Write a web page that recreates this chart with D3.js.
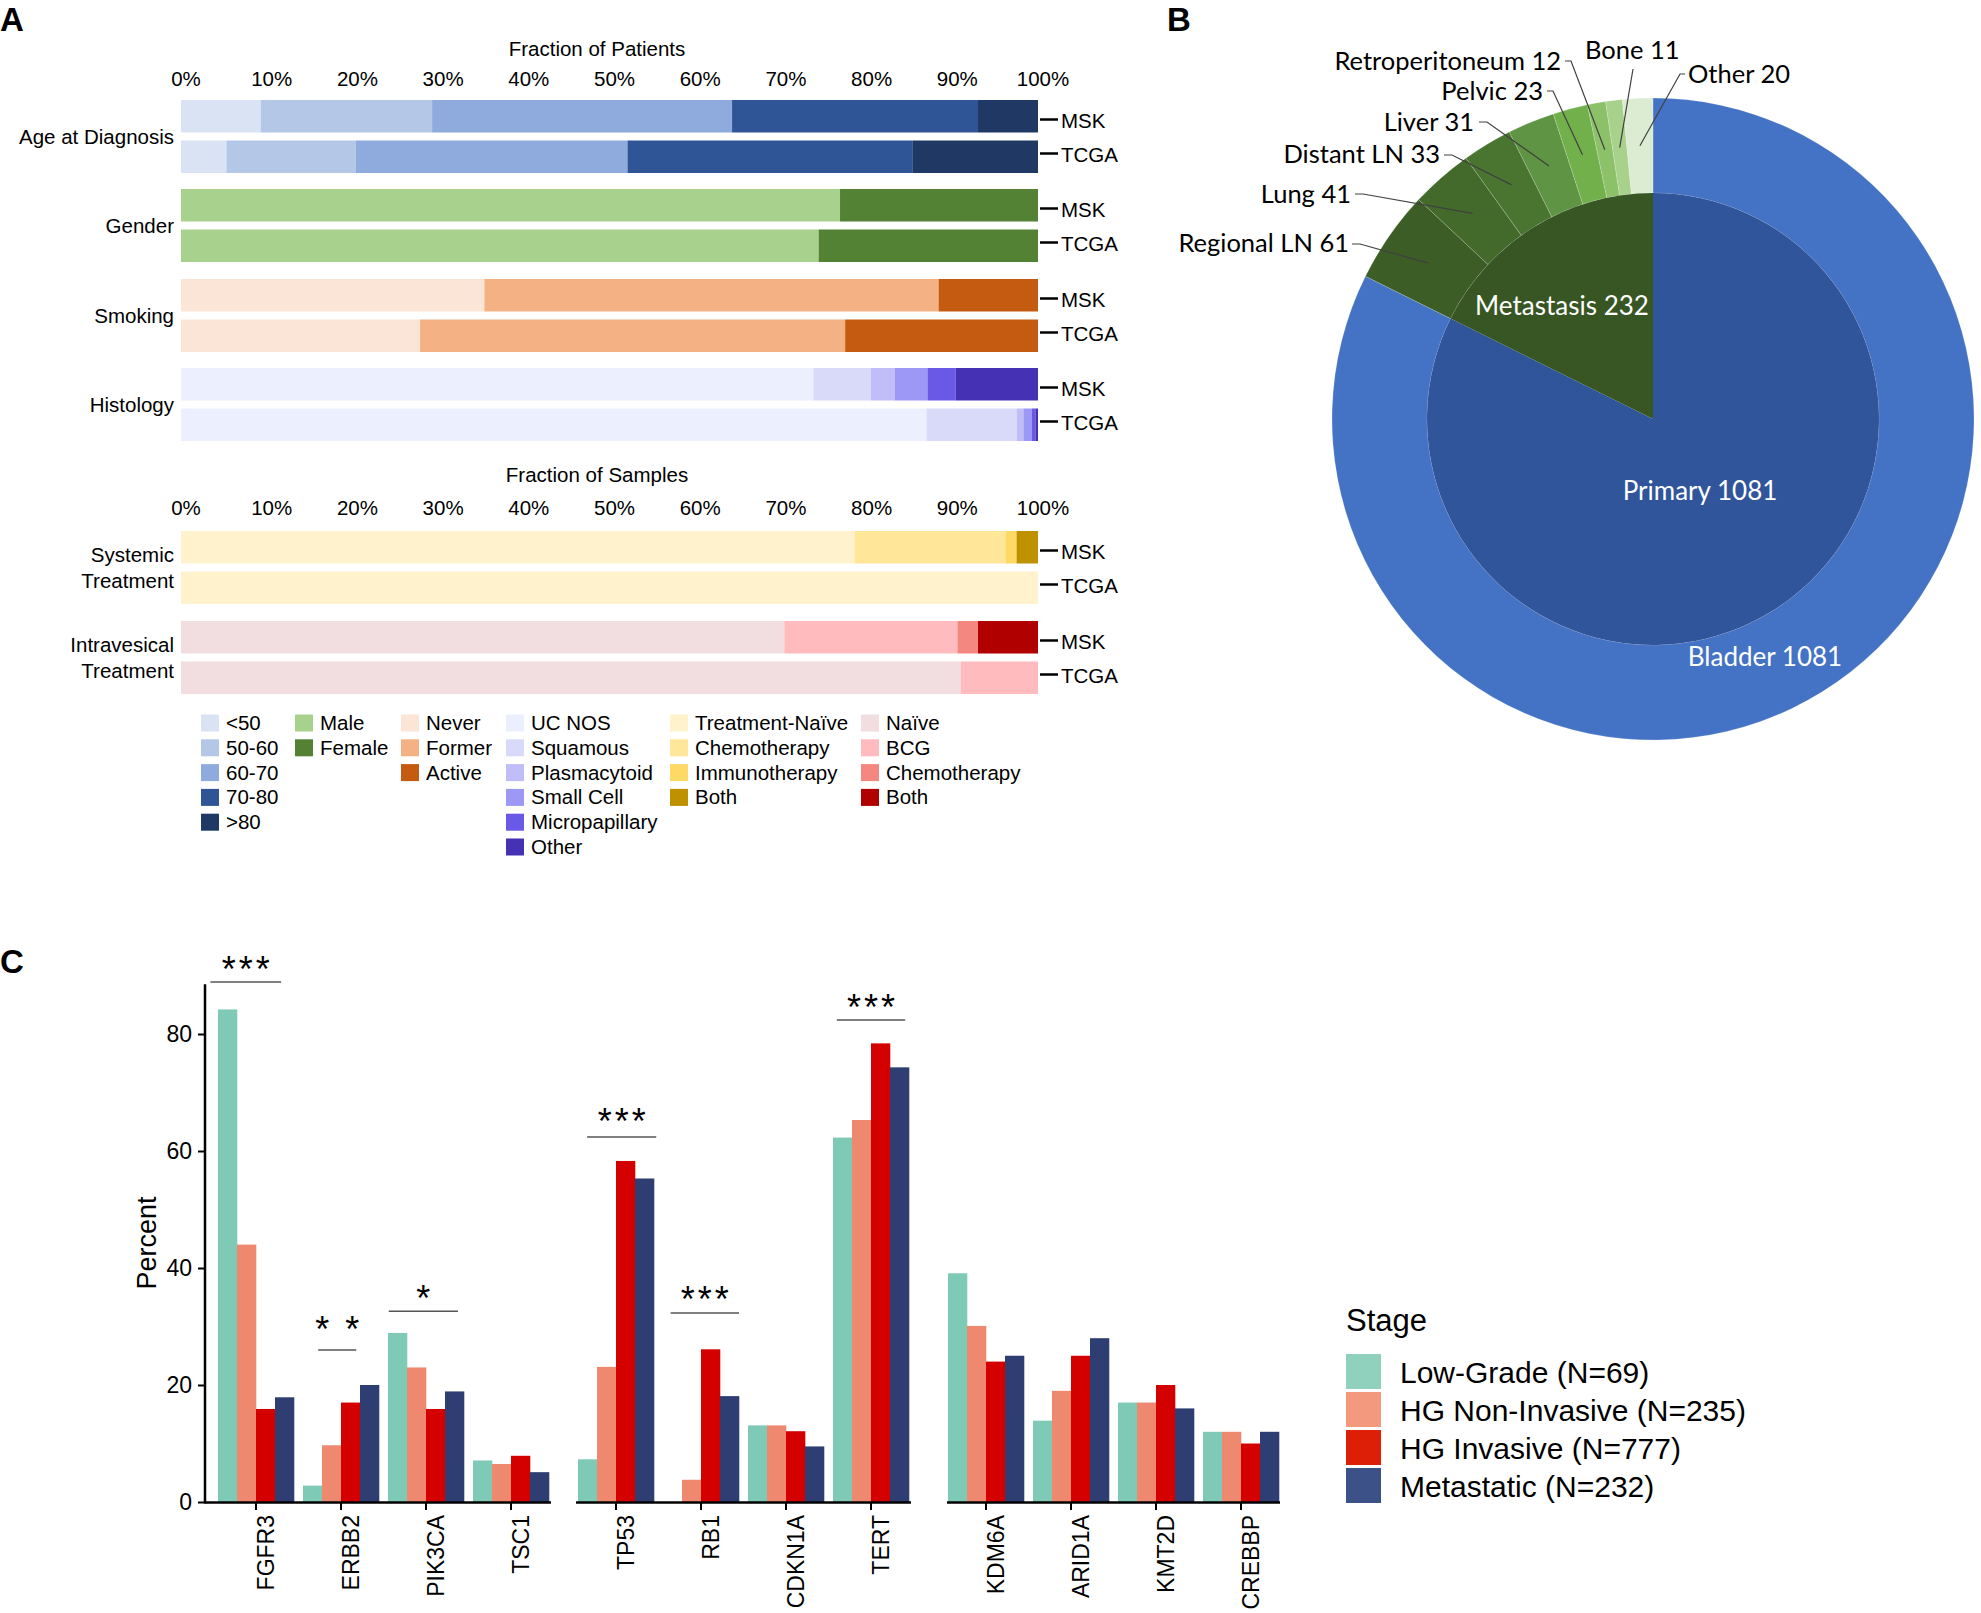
<!DOCTYPE html>
<html><head><meta charset="utf-8">
<script src="https://cdn.jsdelivr.net/npm/d3@7"></script>
<style>body{margin:0;background:#fff}svg{display:block}</style>
</head><body>
<svg id="chart" width="1981" height="1613"></svg>
<script>
// ================= DATA =================
// Panel A
const cohorts = ["MSK", "TCGA"];
const pctTicks = [0, 10, 20, 30, 40, 50, 60, 70, 80, 90, 100];
const ageCats = ["<50", "50-60", "60-70", "70-80", ">80"];
const ageMSK = [9.3, 20.0, 35.0, 28.7, 7.0];
const ageTCGA = [5.3, 15.1, 31.7, 33.3, 14.6];
const genderCats = ["Male", "Female"];
const genderMSK = [76.9, 23.1];
const genderTCGA = [74.4, 25.6];
const smokingCats = ["Never", "Former", "Active"];
const smokingMSK = [35.4, 53.0, 11.6];
const smokingTCGA = [27.9, 49.6, 22.5];
const histCats = ["UC NOS", "Squamous", "Plasmacytoid", "Small Cell", "Micropapillary", "Other"];
const histMSK = [73.8, 6.7, 2.8, 3.8, 3.3, 9.6];
const histTCGA = [87.0, 10.5, 0.8, 1.0, 0.4, 0.3];
const sysCats = ["Treatment-Naïve", "Chemotherapy", "Immunotherapy", "Both"];
const sysMSK = [78.6, 17.6, 1.3, 2.5];
const sysTCGA = [100, 0, 0, 0];
const ivCats = ["Naïve", "BCG", "Chemotherapy", "Both"];
const ivMSK = [70.4, 20.2, 2.4, 7.0];
const ivTCGA = [91.0, 9.0, 0, 0];

// Panel B
const stageNames = ["Primary", "Metastasis"];
const stageCounts = [1081, 232];
const siteNames = ["Bladder", "Regional LN", "Lung", "Distant LN", "Liver", "Pelvic", "Retroperitoneum", "Bone", "Other"];
const siteCounts = [1081, 61, 41, 33, 31, 23, 12, 11, 20];

// Panel C
const genePanels = [["FGFR3", "ERBB2", "PIK3CA", "TSC1"], ["TP53", "RB1", "CDKN1A", "TERT"], ["KDM6A", "ARID1A", "KMT2D", "CREBBP"]];
const stageLabels = ["Low-Grade (N=69)", "HG Non-Invasive (N=235)", "HG Invasive (N=777)", "Metastatic (N=232)"];
const lowGrade   = [84.2, 2.8, 28.9, 7.1, 7.3, 0, 13.1, 62.3, 39.1, 13.9, 17.0, 12.0];
const hgNonInv   = [44.0, 9.7, 23.0, 6.5, 23.1, 3.8, 13.1, 65.3, 30.1, 19.0, 17.0, 12.0];
const hgInv      = [15.9, 17.0, 15.9, 7.9, 58.3, 26.1, 12.1, 78.4, 24.0, 25.0, 20.0, 10.0];
const metastatic = [17.9, 20.0, 18.9, 5.1, 55.3, 18.1, 9.5, 74.3, 25.0, 28.0, 16.0, 12.0];
const yTicks = [0, 20, 40, 60, 80];
const sigGenes = ["FGFR3", "ERBB2", "PIK3CA", "TP53", "RB1", "TERT"];
const sigMarks = ["***", "* *", "*", "***", "***", "***"];
const sigLevels = [88.9, 26.0, 32.6, 62.4, 32.3, 82.4];

// ================= STYLE / LAYOUT =================
const FONT = "'Liberation Sans', Arial, Helvetica, sans-serif";
const FONTB = "Lato, 'Open Sans', sans-serif";
const ageColors = ["#dae3f3", "#b4c7e7", "#8faadc", "#2f5597", "#1f3864"];
const genderColors = ["#a9d18e", "#548235"];
const smokingColors = ["#fbe5d6", "#f4b183", "#c55a11"];
const histColors = ["#eceffd", "#d9dafa", "#c0bdf8", "#9d98f5", "#6a58e6", "#4431b4"];
const sysColors = ["#fff2cc", "#ffe699", "#ffd966", "#bf9000"];
const ivColors = ["#f2dde1", "#ffbbbd", "#f4877f", "#b00000"];
const stageColors = ["#31559a", "#375623"];
const siteColors = ["#4472c4", "#3c5d26", "#436a2b", "#4a7530", "#5e9443", "#71b04b", "#8cc16a", "#a8d18b", "#dcecd3"];
const barColors = ["#7fcab6", "#ee896f", "#d40000", "#2e3e72"];
const legColors = ["#8fd1bd", "#f39a7e", "#dd1f08", "#3b5188"];

const svg = d3.select("#chart");

// ---------- Panel letters ----------
svg.append("text").attr("x", 0).attr("y", 31).text("A");
svg.append("text").attr("x", 1167).attr("y", 31).text("B");
svg.append("text").attr("x", 0).attr("y", 973).text("C");
svg.selectAll("text").attr("font-family", FONT).attr("font-weight", "bold").attr("font-size", 33);

// ================= PANEL A =================
const gA = svg.append("g").attr("font-family", FONT).attr("font-size", 20.5).attr("fill", "#000");
const xA = d3.scaleLinear().domain([0, 100]).range([181, 1038]);

const sections = [
  {label: ["Age at Diagnosis"], vals: [ageMSK, ageTCGA], colors: ageColors, top: 100},
  {label: ["Gender"], vals: [genderMSK, genderTCGA], colors: genderColors, top: 189},
  {label: ["Smoking"], vals: [smokingMSK, smokingTCGA], colors: smokingColors, top: 279},
  {label: ["Histology"], vals: [histMSK, histTCGA], colors: histColors, top: 368},
  {label: ["Systemic", "Treatment"], vals: [sysMSK, sysTCGA], colors: sysColors, top: 531},
  {label: ["Intravesical", "Treatment"], vals: [ivMSK, ivTCGA], colors: ivColors, top: 621}
];
const barH = 32.5, rowStep = 40.5;

// axis headers
function pctAxis(titleText, titleY, tickY) {
  gA.append("text").attr("x", 597).attr("y", titleY).attr("text-anchor", "middle").text(titleText);
  gA.selectAll(null).data(pctTicks).join("text")
    .attr("x", d => xA(d) + 5).attr("y", tickY).attr("text-anchor", "middle")
    .text(d => d + "%");
}
pctAxis("Fraction of Patients", 56, 86);
pctAxis("Fraction of Samples", 482, 515);

sections.forEach(sec => {
  const gc = sec.top + (rowStep + barH) / 2;
  sec.vals.forEach((vals, ri) => {
    const y0 = sec.top + ri * rowStep;
    const cum = [0, ...d3.cumsum(vals)];
    gA.append("g").selectAll("rect").data(vals).join("rect")
      .attr("x", (d, i) => xA(cum[i]))
      .attr("width", (d, i) => Math.max(0, xA(cum[i + 1]) - xA(cum[i])))
      .attr("y", y0).attr("height", barH)
      .attr("fill", (d, i) => sec.colors[i]);
    const ly = gc + (ri === 0 ? -17 : 17);
    gA.append("line").attr("x1", 1040).attr("x2", 1058).attr("y1", ly).attr("y2", ly)
      .attr("stroke", "#000").attr("stroke-width", 2.5);
    gA.append("text").attr("x", 1061).attr("y", ly + 8).text(cohorts[ri]);
  });
  const n = sec.label.length;
  sec.label.forEach((t, i) => {
    gA.append("text").attr("x", 174).attr("y", gc + 7 + (i - (n - 1) / 2) * 26)
      .attr("text-anchor", "end").text(t);
  });
});

// legend
const legendCols = [
  {cats: ageCats, colors: ageColors, x: 201},
  {cats: genderCats, colors: genderColors, x: 295},
  {cats: smokingCats, colors: smokingColors, x: 401},
  {cats: histCats, colors: histColors, x: 506},
  {cats: sysCats, colors: sysColors, x: 670},
  {cats: ivCats, colors: ivColors, x: 861}
];
legendCols.forEach(col => {
  const g = gA.append("g");
  col.cats.forEach((c, i) => {
    const cy = 723 + i * 24.8;
    g.append("rect").attr("x", col.x).attr("y", cy - 8.5).attr("width", 18).attr("height", 17)
      .attr("fill", col.colors[i]);
    g.append("text").attr("x", col.x + 25).attr("y", cy + 7).text(c);
  });
});

// ================= PANEL B =================
const cx = 1653, cy = 419, rIn = 226, rOut = 321;
const gB = svg.append("g").attr("transform", `translate(${cx},${cy})`).attr("font-family", FONTB);
const pie = d3.pie().sort(null).value(d => d).startAngle(0).endAngle(2 * Math.PI);
const innerArc = d3.arc().innerRadius(0).outerRadius(rIn);
const outerArc = d3.arc().innerRadius(rIn).outerRadius(rOut);
const stagePie = pie(stageCounts);
const sitePie = pie(siteCounts);
gB.selectAll("path.o").data(sitePie).join("path").attr("class", "o")
  .attr("d", outerArc).attr("fill", (d, i) => siteColors[i])
  .attr("stroke", "rgba(255,255,255,0.18)").attr("stroke-width", 1);
gB.selectAll("path.i").data(stagePie).join("path").attr("class", "i")
  .attr("d", innerArc).attr("fill", (d, i) => stageColors[i]);

// internal labels (white)
const innerLabelPos = [[47, 81], [-91, -104]];
stagePie.forEach((d, i) => {
  gB.append("text").attr("x", innerLabelPos[i][0]).attr("y", innerLabelPos[i][1])
    .attr("text-anchor", "middle").attr("fill", "#fff").attr("font-size", 26)
    .text(stageNames[i] + " " + stageCounts[i]);
});
gB.append("text").attr("x", 112).attr("y", 247).attr("text-anchor", "middle")
  .attr("fill", "#fff").attr("font-size", 26).text(siteNames[0] + " " + siteCounts[0]);

// external labels with leader lines (absolute page positions)
const siteLabelLayout = [
  null,
  {x: 1349, y: 252, a: "end", lx: 1352, ly: 244, h: 8},
  {x: 1351, y: 203, a: "end", lx: 1355, ly: 194, h: 8},
  {x: 1440, y: 163, a: "end", lx: 1444, ly: 155, h: 8},
  {x: 1474, y: 131, a: "end", lx: 1479, ly: 122, h: 8},
  {x: 1543, y: 100, a: "end", lx: 1547, ly: 91, h: 6},
  {x: 1561, y: 70, a: "end", lx: 1565, ly: 61, h: 6},
  {x: 1585, y: 59, a: "start", lx: 1633, ly: 69, h: 0},
  {x: 1688, y: 83, a: "start", lx: 1685, ly: 74, h: -5}
];
sitePie.forEach((d, i) => {
  const L = siteLabelLayout[i];
  if (!L) return;
  const c = outerArc.centroid(d);
  gB.append("path")
    .attr("d", `M${L.lx - cx},${L.ly - cy}h${L.h}L${c[0]},${c[1]}`)
    .attr("fill", "none").attr("stroke", "#404040").attr("stroke-width", 1.2);
  gB.append("text").attr("x", L.x - cx).attr("y", L.y - cy).attr("text-anchor", L.a)
    .attr("font-size", 25.5).attr("fill", "#000").text(siteNames[i] + " " + siteCounts[i]);
});

// ================= PANEL C =================
const gC = svg.append("g").attr("font-family", FONT);
const yC = d3.scaleLinear().domain([0, 80]).range([1502, 1034]);
const panelRanges = [[218, 549], [578, 909], [948, 1279]];
const axisRanges = [[205, 551], [576, 911], [947, 1280]];
const seriesList = [lowGrade, hgNonInv, hgInv, metastatic];
const allGenes = genePanels.flat();
const xBand = {};

genePanels.forEach((genes, pi) => {
  const x0 = d3.scaleBand().domain(genes).range(panelRanges[pi]).paddingInner(0.106);
  const x1 = d3.scaleBand().domain(d3.range(4)).range([0, x0.bandwidth()]);
  genes.forEach(g => xBand[g] = x0);
  const g = gC.append("g");
  genes.forEach(gene => {
    const gi = allGenes.indexOf(gene);
    g.append("g").attr("transform", `translate(${x0(gene)},0)`)
      .selectAll("rect").data(seriesList.map(s => s[gi])).join("rect")
      .attr("x", (d, si) => x1(si)).attr("width", x1.bandwidth() + 0.3)
      .attr("y", d => yC(d)).attr("height", d => yC(0) - yC(d))
      .attr("fill", (d, si) => barColors[si]);
  });
  // x axis
  const ax = gC.append("g").attr("transform", `translate(0,${yC(0)})`)
    .call(d3.axisBottom(x0).tickSize(8).tickSizeOuter(0));
  ax.select(".domain").remove();
  ax.selectAll(".tick line").attr("stroke", "#000").attr("stroke-width", 2);
  ax.selectAll(".tick text")
    .attr("font-family", FONT).attr("font-size", 23).attr("fill", "#000")
    .attr("transform", "rotate(-90)").attr("x", -13).attr("y", 0).attr("dy", "0.78em")
    .attr("text-anchor", "end");
  gC.append("line").attr("x1", axisRanges[pi][0]).attr("x2", axisRanges[pi][1])
    .attr("y1", yC(0) + 0.5).attr("y2", yC(0) + 0.5).attr("stroke", "#000").attr("stroke-width", 2.5);
});

// y axis
const yAx = gC.append("g").attr("transform", "translate(205,0)")
  .call(d3.axisLeft(yC).tickValues(yTicks).tickSize(7).tickPadding(6));
yAx.select(".domain").remove();
yAx.selectAll(".tick line").attr("stroke", "#000").attr("stroke-width", 2);
yAx.selectAll(".tick text").attr("font-family", FONT).attr("font-size", 23).attr("fill", "#000");
gC.append("line").attr("x1", 205).attr("x2", 205).attr("y1", yC(88.5)).attr("y2", yC(0) + 1.5)
  .attr("stroke", "#000").attr("stroke-width", 2.5);
gC.append("text").attr("transform", `translate(156,1243) rotate(-90)`).attr("text-anchor", "middle")
  .attr("font-size", 27).text("Percent");

// significance brackets
const sigSpan = [[-0.1, 0.83], [0.2, 0.7], [0.01, 0.92], [0.12, 1.03], [0.1, 1.0], [0.05, 0.95]];
const sigLift = [0, 8, 0, 3, 1, 0];
sigGenes.forEach((gene, i) => {
  const x0 = xBand[gene];
  const bw = x0.bandwidth();
  const xa = x0(gene) + sigSpan[i][0] * bw, xb = x0(gene) + sigSpan[i][1] * bw;
  const yy = yC(sigLevels[i]);
  gC.append("line").attr("x1", xa).attr("x2", xb).attr("y1", yy).attr("y2", yy)
    .attr("stroke", "#555").attr("stroke-width", 1.5);
  gC.append("text").attr("x", (xa + xb) / 2 + 1.5).attr("y", yy - sigLift[i]).attr("text-anchor", "middle")
    .attr("font-size", 36).attr("letter-spacing", 3).text(sigMarks[i]);
});

// legend
const gL = gC.append("g").attr("font-family", FONT);
gL.append("text").attr("x", 1346).attr("y", 1331).attr("font-size", 31).text("Stage");
stageLabels.forEach((s, i) => {
  const top = 1354 + i * 38;
  gL.append("rect").attr("x", 1346).attr("y", top).attr("width", 35).attr("height", 35).attr("fill", legColors[i]);
  gL.append("text").attr("x", 1400).attr("y", top + 28.5).attr("font-size", 30).text(s);
});
</script>
</body></html>
